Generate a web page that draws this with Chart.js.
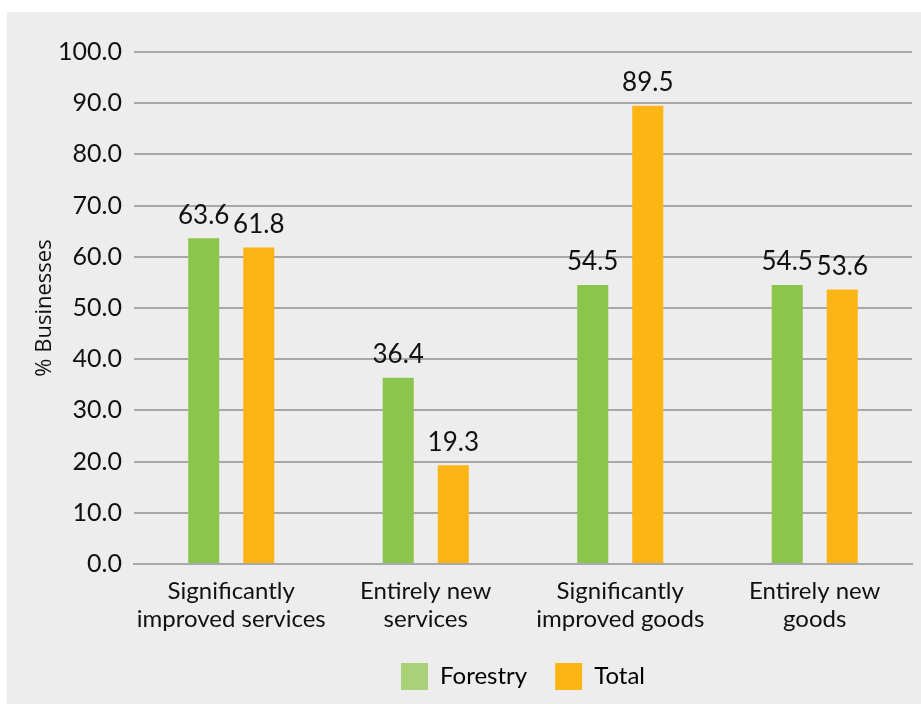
<!DOCTYPE html>
<html>
<head>
<meta charset="utf-8">
<script src="https://cdn.jsdelivr.net/npm/chart.js@4.4.1/dist/chart.umd.min.js"></script>
<style>
  html, body { margin: 0; padding: 0; background: #fff; }
  #wrap { width: 921px; height: 704px; }
</style>
</head>
<body>
<div id="wrap"><canvas id="chart" width="921" height="704"></canvas></div>
<script>
const categories = [
  ['Significantly', 'improved services'],
  ['Entirely new', 'services'],
  ['Significantly', 'improved goods'],
  ['Entirely new', 'goods']
];
const forestry = [63.6, 36.4, 54.5, 54.5];
const total = [61.8, 19.3, 89.5, 53.6];
const yTicks = [0, 10, 20, 30, 40, 50, 60, 70, 80, 90, 100];

const FONT = 'Lato, "Noto Sans", sans-serif';

// grey panel behind the chart
const panel = {
  id: 'panel',
  beforeDraw(chart) {
    const ctx = chart.ctx;
    ctx.save();
    ctx.fillStyle = '#ededed';
    ctx.fillRect(7, 12, 914, 692);
    ctx.restore();
  }
};

// value labels above each bar
const valueLabels = {
  id: 'valueLabels',
  afterDatasetsDraw(chart) {
    const ctx = chart.ctx;
    ctx.save();
    ctx.font = '26px ' + FONT;
    ctx.fillStyle = '#111';
    ctx.textAlign = 'center';
    ctx.textBaseline = 'bottom';
    chart.data.datasets.forEach((ds, i) => {
      chart.getDatasetMeta(i).data.forEach((bar, j) => {
        ctx.fillText(ds.data[j].toFixed(1), bar.x, bar.y - 10);
      });
    });
    ctx.restore();
  }
};

new Chart(document.getElementById('chart'), {
  type: 'bar',
  data: {
    labels: categories,
    datasets: [
      { label: 'Forestry', data: forestry, backgroundColor: '#8cc54b', legendColor: '#a9d178' },
      { label: 'Total', data: total, backgroundColor: '#fdb515', legendColor: '#fdb515' }
    ]
  },
  options: {
    responsive: false,
    animation: false,
    devicePixelRatio: 1,
    datasets: { bar: { categoryPercentage: 0.566, barPercentage: 0.564 } },
    layout: { padding: { left: 32, right: 9, top: 52, bottom: 4 } },
    plugins: {
      tooltip: { enabled: false },
      legend: {
        position: 'bottom',
        fullSize: false,
        labels: {
          font: { family: FONT, size: 24 },
          color: '#111',
          boxWidth: 27,
          boxHeight: 27,
          padding: 28,
          generateLabels(chart) {
            return chart.data.datasets.map((ds, i) => ({
              text: ds.label,
              fillStyle: ds.legendColor,
              strokeStyle: ds.legendColor,
              lineWidth: 0,
              datasetIndex: i
            }));
          }
        }
      }
    },
    scales: {
      x: {
        grid: { display: false },
        border: { color: '#a8a8ac', width: 2 },
        ticks: { font: { family: FONT, size: 24, lineHeight: 1.17 }, color: '#111', maxRotation: 0, padding: 5 },
        afterFit(scale) { scale.height = 71; }
      },
      y: {
        min: 0,
        max: 100,
        afterBuildTicks(scale) { scale.ticks = yTicks.map(v => ({ value: v })); },
        grid: { color: '#a8a8ac', lineWidth: 2, drawTicks: false },
        border: { display: false },
        ticks: {
          font: { family: FONT, size: 25 },
          color: '#111',
          padding: 12,
          callback: v => v.toFixed(1)
        },
        title: {
          display: true,
          text: '% Businesses',
          font: { family: '"Open Sans", sans-serif', size: 22 },
          color: '#111',
          padding: 0
        },
        afterFit(scale) { scale.width = 102; }
      }
    }
  },
  plugins: [panel, valueLabels]
});
</script>
</body>
</html>
